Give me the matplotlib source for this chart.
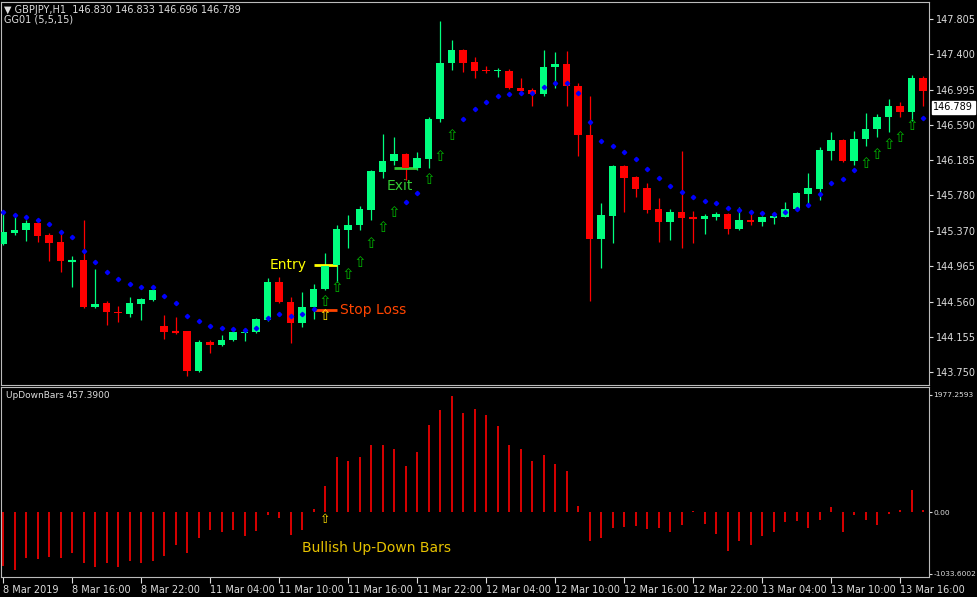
import matplotlib
matplotlib.use("Agg")
import matplotlib.pyplot as plt
import numpy as np

W, H = 977, 597
opens = [145.220,145.346,145.381,145.461,145.323,145.243,145.025,145.036,144.496,144.542,
         144.439,144.416,144.531,144.577,144.278,144.220,144.220,143.761,144.094,144.060,
         144.117,144.197,144.209,144.347,144.783,144.554,144.312,144.496,144.703,144.979,
         145.381,145.438,145.611,146.047,146.173,146.254,146.093,146.196,146.656,147.299,
         147.449,147.311,147.219,147.207,147.207,147.012,146.989,146.943,147.253,147.288,
         147.035,146.472,145.277,145.542,146.116,145.990,145.863,145.622,145.473,145.588,
         145.530,145.507,145.530,145.565,145.392,145.496,145.473,145.519,145.530,145.622,
         145.794,145.852,146.288,146.415,146.173,146.426,146.541,146.679,146.805,146.736,147.127]
highs = [145.576,145.530,145.496,145.473,145.346,145.346,145.082,145.496,144.933,144.565,
         144.508,144.611,144.600,144.726,144.404,144.381,144.225,144.117,144.117,144.175,
         144.220,144.255,144.370,144.829,144.841,144.611,144.669,144.760,145.117,145.438,
         145.553,145.656,146.065,146.484,146.449,146.265,146.277,146.679,147.782,147.563,
         147.455,147.368,147.265,147.242,147.225,147.127,147.015,147.449,147.426,147.437,
         147.069,146.920,145.691,146.125,146.127,146.001,145.921,145.748,145.622,146.288,
         145.599,145.565,145.588,145.576,145.645,145.611,145.542,145.553,145.702,145.817,
         146.036,146.334,146.507,146.426,146.518,146.725,146.713,146.886,146.851,147.161,147.150]
lows = [145.208,145.323,145.254,145.243,145.025,144.898,144.726,144.485,144.490,144.289,
        144.324,144.381,144.347,144.565,144.129,144.186,143.704,143.749,143.968,144.048,
        144.106,144.106,144.197,144.335,144.542,144.083,144.266,144.358,144.691,144.783,
        145.174,145.381,145.496,145.978,146.127,145.955,146.070,146.093,146.621,147.219,
        147.196,147.127,147.184,147.138,147.001,146.972,146.805,146.920,147.012,146.805,
        146.231,144.565,144.944,145.231,145.588,145.760,145.576,145.243,145.266,145.174,
        145.231,145.335,145.496,145.335,145.381,145.438,145.427,145.450,145.525,145.611,
        145.645,145.725,146.185,146.162,146.127,146.346,146.449,146.507,146.679,146.633,146.805]
closes = [145.358,145.381,145.461,145.312,145.231,145.025,145.036,144.496,144.531,144.439,
          144.427,144.542,144.588,144.691,144.209,144.209,143.761,144.094,144.060,144.117,
          144.209,144.209,144.358,144.783,144.554,144.312,144.496,144.703,144.967,145.392,
          145.438,145.622,146.059,146.173,146.254,146.093,146.208,146.656,147.299,147.449,
          147.299,147.207,147.207,147.219,147.012,146.978,146.943,147.253,147.288,147.035,
          146.472,145.277,145.553,146.116,145.978,145.852,145.611,145.473,145.588,145.519,
          145.519,145.542,145.565,145.392,145.496,145.473,145.530,145.542,145.622,145.806,
          145.863,146.300,146.415,146.173,146.426,146.541,146.679,146.805,146.736,147.127,146.978]
trail = [145.588,145.553,145.530,145.496,145.450,145.358,145.300,145.140,145.013,144.898,
         144.818,144.760,144.726,144.726,144.623,144.542,144.393,144.335,144.278,144.255,
         144.243,144.232,144.255,144.370,144.416,144.393,144.416,144.473,144.565,144.726,
         144.875,145.013,145.231,145.415,145.588,145.702,145.806,145.967,146.231,146.472,
         146.656,146.771,146.851,146.920,146.943,146.955,146.955,147.024,147.069,147.069,
         146.955,146.621,146.403,146.346,146.277,146.196,146.082,145.978,145.886,145.817,
         145.760,145.714,145.691,145.633,145.611,145.588,145.576,145.565,145.588,145.622,
         145.668,145.794,145.921,145.967,146.070,146.150,146.254,146.369,146.449,146.576,146.667]
arrow_bars = [28,29,30,31,32,33,34,37,38,39,75,76,77,78,79]
updown = [-901,-975,-760,-783,-744,-760,-676,-856,-913,-856,-913,-811,-856,-811,-727,-546,
          -687,-422,-293,-321,-293,-389,-310,-39,-96,-377,-293,62,451,929,873,929,1132,1127,
          1076,789,1020,1465,1724,1955,1679,1735,1634,1453,1132,1070,873,975,822,693,101,
          -476,-422,-253,-248,-220,-282,-265,-321,-208,17,-186,-360,-642,-473,-546,-389,
          -321,-152,-135,-265,-118,90,-321,-39,-130,-208,-17,45,377,45]
price_ticks = [147.805,147.400,146.995,146.590,146.185,145.780,145.370,144.965,144.560,144.155,143.750]
date_labels = ["8 Mar 2019","8 Mar 16:00","8 Mar 22:00","11 Mar 04:00","11 Mar 10:00",
               "11 Mar 16:00","11 Mar 22:00","12 Mar 04:00","12 Mar 10:00","12 Mar 16:00",
               "12 Mar 22:00","13 Mar 04:00","13 Mar 10:00","13 Mar 16:00"]

GREEN = "#00FF7F"; RED = "#FF0000"; FG = "#DDDDDD"
fig = plt.figure(figsize=(W/100, H/100), dpi=100, facecolor="black")
def ax_px(x0, y0, x1, y1):
    return fig.add_axes([x0/W, 1-y1/H, (x1-x0)/W, (y1-y0)/H], facecolor="black")

ax = ax_px(1, 2, 929, 385)
ax2 = ax_px(1, 387, 929, 577)
xl = (-0.174, 80.52)
for a in (ax, ax2):
    a.set_xlim(*xl)
    for s in a.spines.values():
        s.set_color("#BBBBBB"); s.set_linewidth(0.8)
ax.set_ylim(143.601, 148.000)
ax2.set_ylim(-1085, 2111)

n = len(opens)
x = np.arange(n)
for i in range(n):
    o, h, l, c = opens[i], highs[i], lows[i], closes[i]
    col = GREEN if c >= o else RED
    ax.vlines(i, l, h, color=col, lw=0.9, zorder=2)
    lo, hi = min(o, c), max(o, c)
    if hi - lo < 0.012:
        ax.hlines((o+c)/2, i-0.32, i+0.32, color=col, lw=1.5, zorder=3)
    else:
        ax.bar(i, hi-lo, bottom=lo, width=0.62, color=col, zorder=3, linewidth=0)

dots = [i for i in range(n) if i not in arrow_bars]
ax.plot(dots, [trail[i] for i in dots], ls="none", marker="D", ms=2.2, color="#0000FF", zorder=4)
for i in arrow_bars:
    ax.text(i, trail[i], "⇧", color="#00B000", fontsize=11, ha="center", va="center", zorder=4)
ax.text(28, 144.403, "⇧", color="#FFE000", fontsize=11, ha="center", va="center")

# annotations
ax.hlines(144.979, 27.0, 29.0, color="#FFFF00", lw=2)
ax.text(26.4, 144.979, "Entry", color="#FFFF00", fontsize=10, ha="right", va="center")
ax.hlines(144.462, 27.0, 29.0, color="#FF4500", lw=2)
ax.text(29.3, 144.462, "Stop Loss", color="#FF4500", fontsize=10, ha="left", va="center")
ax.hlines(146.093, 34.0, 36.0, color="#33CC33", lw=2)
ax.text(34.5, 145.886, "Exit", color="#33CC33", fontsize=10, ha="center", va="center")

ax.yaxis.tick_right()
ax.set_yticks(price_ticks)
ax.set_yticklabels([f"{p:.3f}" for p in price_ticks])
ax.tick_params(axis="y", colors=FG, labelsize=7, length=3, pad=2)
ax.tick_params(axis="x", bottom=False, labelbottom=False)
ax.annotate("146.789", xy=(1.0, 146.789), xycoords=("axes fraction", "data"),
            xytext=(3, 0), textcoords="offset points", ha="left", va="center",
            fontsize=7, color="black",
            bbox=dict(boxstyle="square,pad=0.15", fc="white", ec="white"))
fig.text(4/W, 1-10/H, "▼ GBPJPY,H1  146.830 146.833 146.696 146.789", color=FG, fontsize=7, va="center")
fig.text(4/W, 1-20/H, "GG01 (5,5,15)", color=FG, fontsize=7, va="center")

ax2.vlines(x, 0, updown, color=RED, lw=1.2)
ax2.text(28, -120, "⇧", color="#FFE000", fontsize=9, ha="center", va="center")
ax2.text(26, -590, "Bullish Up-Down Bars", color="#E6C200", fontsize=10, ha="left", va="center")
ax2.text(0.005, 0.955, "UpDownBars 457.3900", transform=ax2.transAxes, color=FG, fontsize=6.5, va="center")
ax2.yaxis.tick_right()
ax2.set_yticks([1977.2593, 0.0, -1033.6002])
ax2.set_yticklabels(["1977.2593", "0.00", "-1033.6002"])
ax2.tick_params(axis="y", colors=FG, labelsize=5.4, length=2, pad=1)
ax2.set_xticks(np.arange(0, 79, 6))
ax2.set_xticklabels(date_labels, ha="left")
ax2.tick_params(axis="x", colors=FG, labelsize=7, length=4, pad=2)

fig.savefig("out.png", dpi=100, facecolor="black")
